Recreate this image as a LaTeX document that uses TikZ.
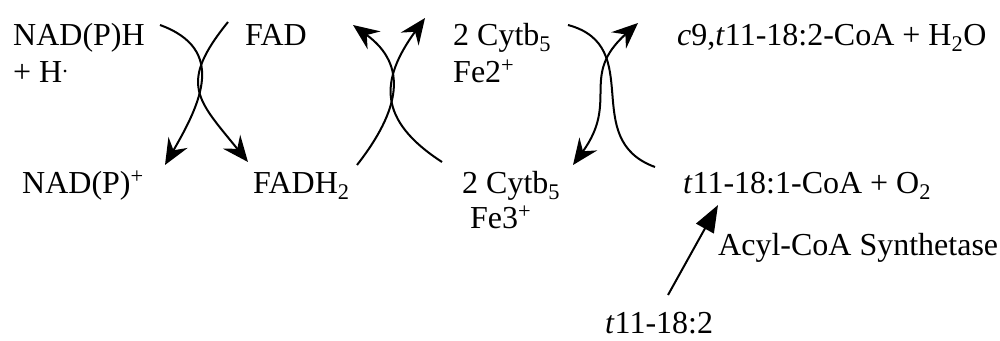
\documentclass[tikz,border=0pt]{standalone}
\usepackage{fontspec}
\setmainfont{Liberation Serif}
\usetikzlibrary{arrows.meta}
\tikzset{
  species/.style = {anchor=base west, inner sep=0pt,
                    font=\fontsize{32}{37}\selectfont},
  redox/.style   = {-{Stealth[length=26pt,width=22pt,inset=9pt]}, line width=2pt},
  twoway/.style  = {{Stealth[length=26pt,width=22pt,inset=9pt]}-{Stealth[length=26pt,width=22pt,inset=9pt]},
                    line width=2pt},
  plainarc/.style= {line width=2pt},
  enzarr/.style  = {-{Triangle[length=27pt,width=20pt]}, line width=2pt},
}

\begin{document}
\begin{tikzpicture}[x=1pt, y=1pt]
\useasboundingbox (0,0) rectangle (1000,-340);

% species
\node[species] (nadph)   at (13,-45)   {NAD(P)H};
\node[species] (hplus)   at (13,-82)   {+ H\textsuperscript{.}};
\node[species] (fad)     at (245,-45)  {FAD};
\node[species] (nadp)    at (22,-193)  {NAD(P)\textsuperscript{+}};
\node[species] (fadh)    at (253,-193) {FADH\textsubscript{2}};
\node[species] (cytred)  at (453,-45)  {2 Cytb\textsubscript{5}};
\node[species] (fetwo)   at (453,-82)  {Fe2\textsuperscript{+}};
\node[species] (cytox)   at (462,-193) {2 Cytb\textsubscript{5}};
\node[species] (fethree) at (470,-228) {Fe3\textsuperscript{+}};
\node[species] (diene)   at (677,-45)  {\textit{c}9,\textit{t}11-18:2-CoA + H\textsubscript{2}O};
\node[species] (monoene) at (683,-193) {\textit{t}11-18:1-CoA + O\textsubscript{2}};
\node[species] (enzyme)  at (718,-255) {Acyl-CoA Synthetase};
\node[species] (fatty)   at (605,-333) {\textit{t}11-18:2};

% arc ends
\coordinate (nadIn)   at (160,-25);
\coordinate (nadOut)  at (165,-165);
\coordinate (fadIn)   at (228,-22);
\coordinate (fadOut)  at (248,-162);
\coordinate (fadhIn)  at (357,-165);
\coordinate (fadhOut) at (353,-25);
\coordinate (cytIn)   at (442,-162);
\coordinate (cytOut)  at (425,-18);
\coordinate (feIn)    at (568,-25);
\coordinate (feOut)   at (655,-167);
\coordinate (desTop)  at (638,-23);
\coordinate (desBot)  at (573,-165);
\coordinate (faTail)  at (668,-295);
\coordinate (faHead)  at (718,-205);

% NAD(P)H / FAD
\draw[redox] (nadIn) to[out=-20, in=60, looseness=1.3] (nadOut);
\draw[redox] (fadIn) to[out=231, in=129, looseness=1.45] (fadOut);

% FADH2 / Cytb5
\draw[redox] (fadhIn) to[out=52, in=-36, looseness=1.26] (fadhOut);
\draw[redox] (cytIn) to[out=147, in=-126, looseness=1.36] (cytOut);

% Cytb5 / desaturation
\draw[plainarc] (feIn) to[out=-15, in=160, looseness=1.25] (feOut);
\draw[twoway] (desTop) to[out=222, in=54, looseness=1.3] (desBot);

% activation
\draw[enzarr] (faTail) -- (faHead);

\end{tikzpicture}
\end{document}
